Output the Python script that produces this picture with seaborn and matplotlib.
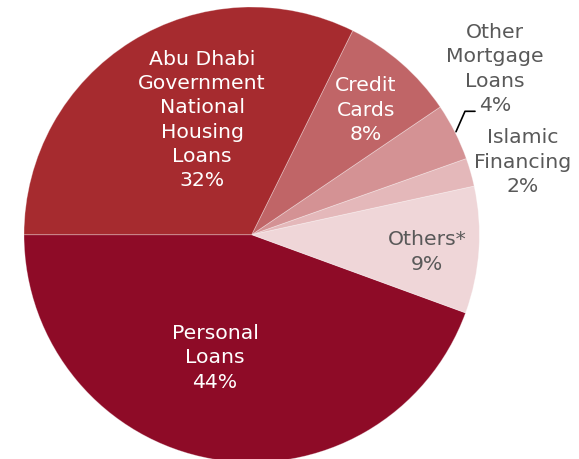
import matplotlib
matplotlib.use("Agg")
import matplotlib.pyplot as plt
import seaborn as sns

# ---- data ----
categories = ["Personal Loans", "Others*", "Islamic Financing",
              "Other Mortgage Loans", "Credit Cards",
              "Abu Dhabi Government National Housing Loans"]
shares = [44.4, 9.0, 2.0, 4.05, 8.2, 32.3]
label_texts = ["Personal\nLoans\n44%", "Others*\n9%", "Islamic\nFinancing\n2%",
               "Other\nMortgage\nLoans\n4%", "Credit\nCards\n8%",
               "Abu Dhabi\nGovernment\nNational\nHousing\nLoans\n32%"]

# ---- style ----
colors = ["#8E0B27", "#EFD6D8", "#E4B8BA", "#D49294", "#C06567", "#A62B2F"]
text_colors = ["white", "#595959", "#595959", "#595959", "white", "white"]
# label anchor positions (pixel space, origin top-left)
label_pos = [(215, 358), (427, 252), (523, 162), (495, 69), (366, 110), (202, 120)]

sns.set_theme(style="white")
plt.rcParams["font.family"] = ["DejaVu Sans"]

W, H = 579, 460
fig = plt.figure(figsize=(W / 100, H / 100), dpi=100)
ax = fig.add_axes([0, 0, 1, 1])

cx, cy, r = 251.7, H - 235.7, 227.7
ax.pie(shares, colors=colors, startangle=180, counterclock=True,
       center=(cx, cy), radius=r, frame=True,
       wedgeprops=dict(linewidth=0.6, edgecolor=(1, 1, 1, 0.35)))
ax.set_xlim(0, W)
ax.set_ylim(0, H)
ax.set_aspect("equal")
ax.axis("off")

for txt, (px, py), tc in zip(label_texts, label_pos, text_colors):
    ax.text(px, H - py, txt, ha="center", va="center", color=tc,
            fontsize=14.7, linespacing=1.34)

# leader line for Other Mortgage Loans
ax.plot([456, 465, 475], [H - 132.7, H - 112.3, H - 112.3],
        color="black", linewidth=1.2)

fig.savefig("out.png", dpi=100)
